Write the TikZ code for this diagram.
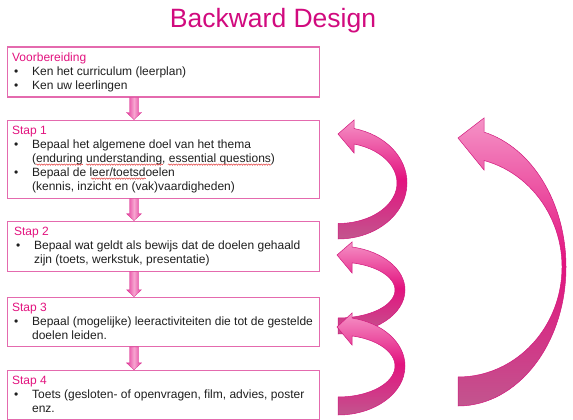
\documentclass[tikz,border=0pt]{standalone}
\usepackage{fontspec}
\setmainfont{Liberation Sans}
\usetikzlibrary{positioning, calc, decorations.pathmorphing}

\begin{document}
\begin{tikzpicture}[
    x=1pt, y=-1pt,
    node distance=22pt,
    stepbox/.style={
        rectangle,
        draw=box_pink,
        line width=1.1pt,
        fill=white,
        minimum width=312pt,
        minimum height=#1,
        inner sep=0pt
    },
    stepbox/.default=50pt,
    steptext/.style={
        anchor=north west,
        inner sep=0pt,
        xshift=5pt,
        yshift=-4.5pt,
        align=left,
        font=\fontsize{12}{14.2}\selectfont\color{text_grey}
    },
    flow/.style={
        draw=flow_edge,
        line width=0.3pt,
        left color=flow_pink,
        right color=flow_pink,
        middle color=flow_light
    },
    ribbon/.style={
        draw=ribbon_edge,
        line width=0.5pt,
        top color=ribbon_light,
        bottom color=ribbon_dark,
        middle color=ribbon_mid
    },
    spell/.style={
        draw=spell_red,
        line width=0.4pt,
        decorate,
        decoration={snake, amplitude=0.7pt, segment length=2.5pt}
    }
]

% Colors
\definecolor{title_pink}{HTML}{D10A7E}
\definecolor{head_pink}{HTML}{E3137F}
\definecolor{box_pink}{HTML}{E46AAE}
\definecolor{text_grey}{HTML}{1F1F1F}
\definecolor{spell_red}{HTML}{E02020}
\definecolor{flow_pink}{HTML}{E2369A}
\definecolor{flow_light}{HTML}{F7A6D0}
\definecolor{flow_edge}{HTML}{DA3090}
\definecolor{ribbon_light}{HTML}{F592C6}
\definecolor{ribbon_mid}{HTML}{E3137F}
\definecolor{ribbon_dark}{HTML}{C2558E}
\definecolor{ribbon_edge}{HTML}{D1197D}

\useasboundingbox (0,0) rectangle (573,420);

% Title
\node[font=\fontsize{26.5}{30}\selectfont, text=title_pink, anchor=base] (title) at (273,28) {Backward Design};

% Voorbereiding
\node[stepbox] (pre) at (163.5,72) {};
\node[steptext] at (pre.north west) {%
    \begin{tabular}{@{}p{20pt}@{}l@{}}
    \multicolumn{2}{@{}l@{}}{\color{head_pink}Voorbereiding}\\
    \hspace*{2pt}\textbullet & Ken het curriculum (leerplan)\\
    \hspace*{2pt}\textbullet & Ken uw leerlingen
    \end{tabular}};

% Stap 1
\node[stepbox=78pt, below=of pre] (s1) {};
\node[steptext] at (s1.north west) {%
    \begin{tabular}{@{}p{20pt}@{}l@{}}
    \multicolumn{2}{@{}l@{}}{\color{head_pink}Stap 1}\\
    \hspace*{2pt}\textbullet & Bepaal het algemene doel van het thema\\
     & (enduring understanding, essential questions)\\
    \hspace*{2pt}\textbullet & Bepaal de leer/toetsdoelen\\
     & (kennis, inzicht en (vak)vaardigheden)
    \end{tabular}};
% spelling marks
\draw[spell] ($(s1.north west)+(29,45)$) -- ++(47,0);
\draw[spell] ($(s1.north west)+(79,45)$) -- ++(77,0);
\draw[spell] ($(s1.north west)+(161,45)$) -- ++(103,0);
\draw[spell] ($(s1.north west)+(84,59)$) -- ++(55,0);

% Stap 2
\node[stepbox, below=of s1] (s2) {};
\node[steptext, xshift=2pt] at (s2.north west) {%
    \begin{tabular}{@{}p{20pt}@{}l@{}}
    \multicolumn{2}{@{}l@{}}{\color{head_pink}Stap 2}\\
    \hspace*{2pt}\textbullet & Bepaal wat geldt als bewijs dat de doelen gehaald\\
     & zijn (toets, werkstuk, presentatie)
    \end{tabular}};

% Stap 3
\node[stepbox=49pt, below=25pt of s2] (s3) {};
\node[steptext] at (s3.north west) {%
    \begin{tabular}{@{}p{20pt}@{}l@{}}
    \multicolumn{2}{@{}l@{}}{\color{head_pink}Stap 3}\\
    \hspace*{2pt}\textbullet & Bepaal (mogelijke) leeractiviteiten die tot de gestelde\\
     & doelen leiden.
    \end{tabular}};

% Stap 4
\node[stepbox=49pt, below=23pt of s3] (s4) {};
\node[steptext] at (s4.north west) {%
    \begin{tabular}{@{}p{20pt}@{}l@{}}
    \multicolumn{2}{@{}l@{}}{\color{head_pink}Stap 4}\\
    \hspace*{2pt}\textbullet & Toets (gesloten- of openvragen, film, advies, poster\\
     & enz.
    \end{tabular}};

% Arrows
\coordinate (axis) at (134,0);
\foreach \a/\b in {pre/s1, s1/s2, s2/s3, s3/s4}
    \draw[flow] ($(\a.south -| axis)+(-4.5,0)$) -- ($(\a.south -| axis)+(4.5,0)$)
        -- ($(\b.north -| axis)+(4.5,-7)$) -- ($(\b.north -| axis)+(7.5,-7)$)
        -- (\b.north -| axis) -- ($(\b.north -| axis)+(-7.5,-7)$)
        -- ($(\b.north -| axis)+(-4.5,-7)$) -- cycle;

% Curved arrows back up
\draw[ribbon] (338,239) arc[start angle=90, end angle={-acos(16/69)}, x radius=69, y radius=56]
    -- (354,120) -- (338,134) -- (354,153)
    -- (354,{183-40.5*sin(acos(16/59))})
    arc[start angle={-acos(16/59)}, end angle=90, x radius=59, y radius=40.5] -- cycle;

\draw[ribbon] (338,334) arc[start angle=90, end angle={-acos(14/67)}, x radius=67, y radius=44]
    -- (352,242) -- (337,255) -- (352,273)
    -- (352,{290-28*sin(acos(14/57))})
    arc[start angle={-acos(14/57)}, end angle=90, x radius=57, y radius=28] -- cycle;

\draw[ribbon] (338,415) arc[start angle=90, end angle={-acos(14/67)}, x radius=67, y radius=49]
    -- (352,313) -- (337,327) -- (352,345)
    -- (352,{366-31*sin(acos(14/57))})
    arc[start angle={-acos(14/57)}, end angle=90, x radius=57, y radius=31] -- cycle;

% Big arrow
\draw[ribbon] (458,406) arc[start angle=90, end angle={-acos(26/108)}, x radius=108, y radius=139]
    -- (484,118) -- (458,138) -- (484,170)
    -- (484,{267-110*sin(acos(26/104))})
    arc[start angle={-acos(26/104)}, end angle=90, x radius=104, y radius=110] -- cycle;

\end{tikzpicture}
\end{document}
